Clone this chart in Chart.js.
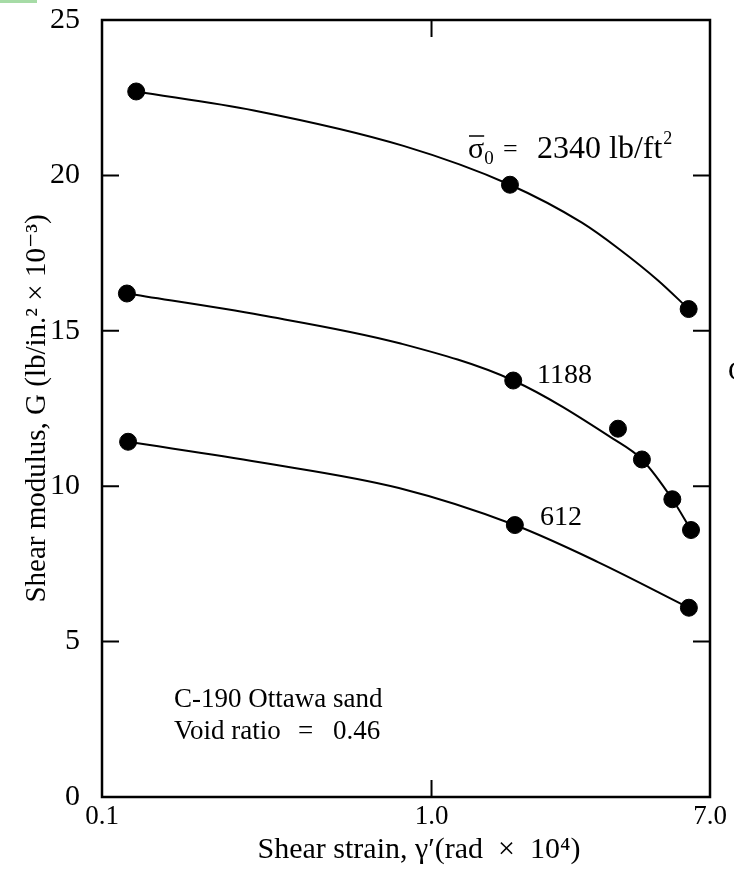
<!DOCTYPE html>
<html>
<head>
<meta charset="utf-8">
<script src="https://cdn.jsdelivr.net/npm/chart.js@4/dist/chart.umd.min.js"></script>
<style>
  html, body { margin: 0; padding: 0; background: #fff; }
  #wrap { width: 734px; height: 877px; position: relative; }
</style>
</head>
<body>
<div id="wrap"><canvas id="shearChart"></canvas></div>
<script>
const strain2340 = [0.127, 1.73, 6.03];
const modulus2340 = [22.7, 19.7, 15.7];

const strain1188 = [0.119, 1.77, 3.68, 4.35, 5.38, 6.13];
const modulus1188 = [16.2, 13.4, 11.85, 10.86, 9.58, 8.59];

const strain612 = [0.12, 1.79, 6.04];
const modulus612 = [11.43, 8.75, 6.09];

// the hand-drawn fitted curves
const curveStrain2340 = [0.127, 0.289, 0.822, 1.73, 2.86, 3.69, 4.87, 6.03];
const curveModulus2340 = [22.7, 22.09, 20.95, 19.7, 18.48, 17.65, 16.62, 15.7];

const curveStrain1188 = [0.119, 0.305, 0.806, 1.77, 3.55, 4.35, 5.38, 6.13];
const curveModulus1188 = [16.2, 15.5, 14.59, 13.4, 11.53, 10.86, 9.58, 8.59];

const curveStrain612 = [0.12, 0.301, 0.796, 1.79, 3.2, 6.04];
const curveModulus612 = [11.43, 10.77, 9.94, 8.75, 7.56, 6.09];

const xTickValues = [0.1, 1.0, 7.0];
const xTickLabels = ["0.1", "1.0", "7.0"];
const yTickValues = [5, 10, 15, 20];

const serif = "'Liberation Serif', 'DejaVu Serif', serif";

function toPoints(xs, ys) {
  return xs.map((x, i) => ({ x: x, y: ys[i] }));
}

function fitLine(xs, ys) {
  return {
    data: toPoints(xs, ys),
    borderColor: "#000",
    borderWidth: 2,
    pointRadius: 0,
    pointHoverRadius: 0,
    cubicInterpolationMode: "monotone",
    showLine: true
  };
}

function dots(xs, ys) {
  return {
    data: toPoints(xs, ys),
    borderColor: "#000",
    backgroundColor: "#000",
    pointRadius: 8.5,
    pointHoverRadius: 8.5,
    showLine: false
  };
}

// box, inward ticks and the text notes
const framePlugin = {
  id: "frame",
  beforeDraw(chart) {
    const c = chart.ctx;
    c.save();
    c.fillStyle = "#a6dba6";
    c.fillRect(0, 0, 37, 3);
    c.restore();
  },
  afterDraw(chart) {
    const c = chart.ctx;
    const a = chart.chartArea;
    const xs = chart.scales.x;
    const ys = chart.scales.y;
    c.save();
    c.strokeStyle = "#000";
    c.lineWidth = 2.5;
    c.strokeRect(a.left, a.top, a.right - a.left, a.bottom - a.top);

    c.lineWidth = 2;
    const len = 17;
    yTickValues.forEach(v => {
      const py = ys.getPixelForValue(v);
      c.beginPath();
      c.moveTo(a.left, py); c.lineTo(a.left + len, py);
      c.moveTo(a.right, py); c.lineTo(a.right - len, py);
      c.stroke();
    });
    const px = xs.getPixelForValue(1.0);
    c.beginPath();
    c.moveTo(px, a.bottom); c.lineTo(px, a.bottom - len);
    c.moveTo(px, a.top); c.lineTo(px, a.top + len);
    c.stroke();

    c.fillStyle = "#000";
    c.textBaseline = "alphabetic";
    c.textAlign = "left";

    // sigma-bar label
    let x = 468, y = 158;
    c.font = "30px " + serif;
    c.fillText("σ", x, y);
    const sw = c.measureText("σ").width;
    c.beginPath();
    c.lineWidth = 1.5;
    c.moveTo(x + 1, y - 22); c.lineTo(x + sw, y - 22);
    c.stroke();
    x += sw;
    c.font = "19px " + serif;
    c.fillText("0", x, y + 6);
    c.font = "26px " + serif;
    c.fillText("=", 503, y - 1);
    c.font = "32px " + serif;
    c.fillText("2340 lb/ft", 537, y);
    x = 537 + c.measureText("2340 lb/ft").width + 1;
    c.font = "18px " + serif;
    c.fillText("2", x, y - 14);

    c.font = "28px " + serif;
    c.fillText("1188", 537, 383);
    c.fillText("612", 540, 525);

    c.font = "27px " + serif;
    c.fillText("C-190 Ottawa sand", 174, 707);
    c.fillText("Void ratio", 174, 739);
    c.fillText("=", 298, 739);
    c.fillText("0.46", 333, 739);

    c.font = "28px " + serif;
    c.fillText("G", 728, 380);

    // x axis title
    c.textAlign = "center";
    c.textBaseline = "middle";
    c.font = "30px " + serif;
    c.fillText("Shear strain, γ′(rad  ×  10⁴)", 419, 850);
    c.restore();
  }
};

const ctx = document.getElementById("shearChart").getContext("2d");
const chart = new Chart(ctx, {
  type: "scatter",
  data: {
    datasets: [
      fitLine(curveStrain2340, curveModulus2340),
      fitLine(curveStrain1188, curveModulus1188),
      fitLine(curveStrain612, curveModulus612),
      dots(strain2340, modulus2340),
      dots(strain1188, modulus1188),
      dots(strain612, modulus612)
    ]
  },
  options: {
    responsive: true,
    maintainAspectRatio: false,
    animation: false,
    layout: { padding: { top: 20, right: 24, left: 0, bottom: 0 } },
    plugins: {
      legend: { display: false },
      tooltip: { enabled: false }
    },
    scales: {
      x: {
        type: "logarithmic",
        min: 0.1,
        max: 7.0,
        afterBuildTicks(scale) {
          scale.ticks = xTickValues.map(v => ({ value: v }));
        },
        afterFit(scale) {
          scale.height = 80;
          scale.paddingLeft = 0;
          scale.paddingRight = 0;
        },
        grid: { display: false, drawTicks: false },
        border: { display: false },
        ticks: {
          autoSkip: false,
          maxRotation: 0,
          padding: 4,
          color: "#000",
          font: { family: serif, size: 27 },
          callback: (v, i) => xTickLabels[i]
        },
        title: { display: false }
      },
      y: {
        min: 0,
        max: 25,
        afterFit(scale) {
          scale.width = 102;
          scale.paddingTop = 0;
          scale.paddingBottom = 0;
        },
        grid: { display: false, drawTicks: false },
        border: { display: false },
        ticks: {
          stepSize: 5,
          padding: 22,
          color: "#000",
          font: { family: serif, size: 30 }
        },
        title: {
          display: true,
          text: "Shear modulus, G (lb/in.² × 10⁻³)",
          color: "#000",
          font: { family: serif, size: 29 },
          padding: { top: 20, bottom: 0 }
        }
      }
    }
  },
  plugins: [framePlugin]
});
</script>
</body>
</html>
